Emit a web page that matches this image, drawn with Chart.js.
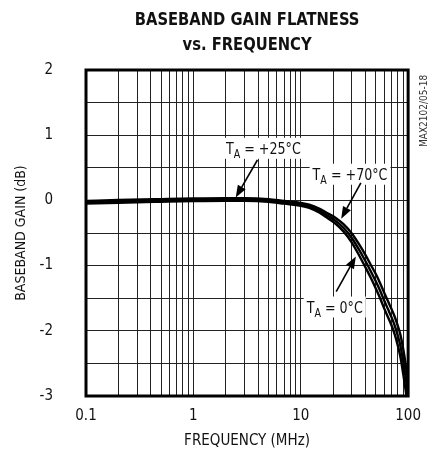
<!DOCTYPE html>
<html>
<head>
<meta charset="utf-8">
<script src="https://cdn.jsdelivr.net/npm/chart.js@4.4.1/dist/chart.umd.min.js"></script>
<style>
  html, body { margin: 0; padding: 0; background: #fff; }
</style>
</head>
<body>
<canvas id="chart" width="432" height="458"></canvas>
<script>
// frequency points (MHz) and baseband gain (dB) for each temperature
const freqs  = [0.1, 0.2, 0.5, 1, 2, 3, 5, 7, 10, 12, 15, 18, 21, 25, 30, 35, 40, 45, 50, 55, 60, 65, 70, 75, 80, 85, 90, 95, 100];
const gain0  = [-0.05, -0.035, -0.02, -0.01, -0.005, -0.005, -0.02, -0.05, -0.082, -0.115, -0.19, -0.277, -0.355, -0.475, -0.65, -0.845, -1.025, -1.19, -1.35, -1.505, -1.66, -1.792, -1.915, -2.055, -2.22, -2.41, -2.66, -2.92, -3.2];
const gain25 = [-0.03, -0.015, 0.0, 0.01, 0.015, 0.015, 0.0, -0.03, -0.06, -0.09, -0.16, -0.24, -0.31, -0.42, -0.58, -0.76, -0.93, -1.09, -1.24, -1.39, -1.54, -1.67, -1.79, -1.92, -2.07, -2.24, -2.47, -2.72, -3.0];
const gain70 = [-0.01, 0.005, 0.02, 0.03, 0.035, 0.035, 0.02, -0.01, -0.038, -0.065, -0.13, -0.203, -0.265, -0.365, -0.51, -0.675, -0.835, -0.99, -1.13, -1.275, -1.42, -1.548, -1.665, -1.785, -1.92, -2.07, -2.28, -2.52, -2.8];

const decades = [0.1, 1, 10];
const xLabels = [0.1, 1, 10, 100];
const yLabels = [-3, -2, -1, 0, 1, 2];
const yGrid = [-3, -2.5, -2, -1.5, -1, -0.5, 0, 0.5, 1, 1.5, 2];

const FONT = "'Liberation Sans Narrow', 'DejaVu Sans Condensed', 'Arial Narrow', sans-serif";

// labels with arrows, in data units
const notes = [
  { text: " = +25°C", x: 2.01, y: 0.715, tail: [3.95, 0.62], tip: [2.48, 0.045] },
  { text: " = +70°C", x: 12.9, y: 0.317, tail: [36.3, 0.27], tip: [23.8, -0.28] },
  { text: " = 0°C", x: 11.35, y: -1.72, tail: [21.4, -1.40], tip: [32.6, -0.86] },
];

const xGrid = [];
decades.forEach(d => { for (let i = 1; i <= 9; i++) xGrid.push(+(d * i).toPrecision(3)); });
xGrid.push(100);

function series(vals) {
  return freqs.map((f, i) => ({ x: f, y: vals[i] }));
}

const lineStyle = {
  borderColor: "#000",
  borderWidth: 2.4,
  pointRadius: 0,
  fill: false,
  cubicInterpolationMode: "monotone",
};

const extras = {
  id: "extras",
  afterDatasetsDraw(chart) {
    const { ctx, chartArea: a, scales } = chart;
    const cx = (a.left + a.right) / 2;

    // frame
    ctx.save();
    ctx.strokeStyle = "#000";
    ctx.lineWidth = 3;
    ctx.strokeRect(a.left, a.top, a.right - a.left, a.bottom - a.top);

    // title
    ctx.fillStyle = "#111";
    ctx.font = "bold 18px " + FONT;
    ctx.textAlign = "center";
    ctx.textBaseline = "alphabetic";
    ctx.save();
    ctx.translate(cx, 0);
    ctx.scale(0.91, 1);
    ctx.fillText("BASEBAND GAIN FLATNESS", 0, 25);
    ctx.fillText("vs. FREQUENCY", 0, 50);
    ctx.restore();

    // side code
    ctx.save();
    ctx.translate(424, 147);
    ctx.rotate(-Math.PI / 2);
    ctx.font = "10px " + FONT;
    ctx.fillStyle = "#333";
    ctx.textAlign = "left";
    ctx.textBaseline = "middle";
    ctx.fillText("MAX2102/05-18", 0, 0);
    ctx.restore();

    // notes
    const sx = 0.88;
    notes.forEach(n => {
      const px = scales.x.getPixelForValue(n.x);
      const py = scales.y.getPixelForValue(n.y);
      ctx.font = "16px " + FONT;
      const wT = ctx.measureText("T").width;
      const wR = ctx.measureText(n.text).width;
      ctx.font = "12px " + FONT;
      const wA = ctx.measureText("A").width;
      const w = (wT + wA + wR) * sx;

      ctx.fillStyle = "#fff";
      ctx.fillRect(px - 3, py - 16, w + 6, 21);

      ctx.save();
      ctx.translate(px, py);
      ctx.scale(sx, 1);
      ctx.fillStyle = "#111";
      ctx.textAlign = "left";
      ctx.font = "16px " + FONT;
      ctx.fillText("T", 0, 0);
      ctx.font = "12px " + FONT;
      ctx.fillText("A", wT, 4);
      ctx.font = "16px " + FONT;
      ctx.fillText(n.text, wT + wA, 0);
      ctx.restore();

      const tx = scales.x.getPixelForValue(n.tail[0]);
      const ty = scales.y.getPixelForValue(n.tail[1]);
      const hx = scales.x.getPixelForValue(n.tip[0]);
      const hy = scales.y.getPixelForValue(n.tip[1]);
      const ang = Math.atan2(hy - ty, hx - tx);
      const len = 12, half = 4.5;
      const bx = hx - len * Math.cos(ang), by = hy - len * Math.sin(ang);
      ctx.strokeStyle = "#000";
      ctx.lineWidth = 1.6;
      ctx.beginPath();
      ctx.moveTo(tx, ty);
      ctx.lineTo(bx, by);
      ctx.stroke();
      ctx.fillStyle = "#000";
      ctx.beginPath();
      ctx.moveTo(hx, hy);
      ctx.lineTo(bx + half * Math.sin(ang), by - half * Math.cos(ang));
      ctx.lineTo(bx - half * Math.sin(ang), by + half * Math.cos(ang));
      ctx.closePath();
      ctx.fill();
    });
    ctx.restore();
  },
};

new Chart(document.getElementById("chart"), {
  type: "line",
  data: {
    datasets: [
      Object.assign({ label: "TA = 0°C", data: series(gain0) }, lineStyle),
      Object.assign({ label: "TA = +25°C", data: series(gain25) }, lineStyle),
      Object.assign({ label: "TA = +70°C", data: series(gain70) }, lineStyle),
    ],
  },
  options: {
    responsive: false,
    animation: false,
    layout: { padding: { left: 0, right: 19, top: 70, bottom: 0 } },
    plugins: { legend: { display: false }, tooltip: { enabled: false } },
    scales: {
      x: {
        type: "logarithmic",
        min: 0.1,
        max: 100,
        afterBuildTicks: s => { s.ticks = xGrid.map(v => ({ value: v })); },
        afterFit: s => { s.height = 62; },
        grid: { color: "#222", lineWidth: 1, drawTicks: false },
        border: { display: false },
        ticks: {
          autoSkip: false,
          maxRotation: 0,
          padding: 11,
          color: "#111",
          font: { family: FONT, size: 15 },
          callback: v => (xLabels.includes(+(+v).toPrecision(3)) ? String(+(+v).toPrecision(3)) : ""),
        },
        title: {
          display: true,
          text: "FREQUENCY (MHz)",
          color: "#111",
          font: { family: FONT, size: 15 },
          padding: { top: 0, bottom: 8 },
        },
      },
      y: {
        min: -3,
        max: 2,
        afterBuildTicks: s => { s.ticks = yGrid.map(v => ({ value: v })); },
        afterFit: s => { s.width = 86; },
        grid: { color: "#222", lineWidth: 1, drawTicks: false },
        border: { display: false },
        ticks: {
          autoSkip: false,
          padding: 33,
          color: "#111",
          font: { family: FONT, size: 15 },
          callback: v => (yLabels.includes(v) ? String(v) : ""),
        },
        title: {
          display: true,
          text: "BASEBAND GAIN (dB)",
          color: "#111",
          font: { family: FONT, size: 14 },
          padding: { top: 13, bottom: 0 },
        },
      },
    },
  },
  plugins: [extras],
});
</script>
</body>
</html>
